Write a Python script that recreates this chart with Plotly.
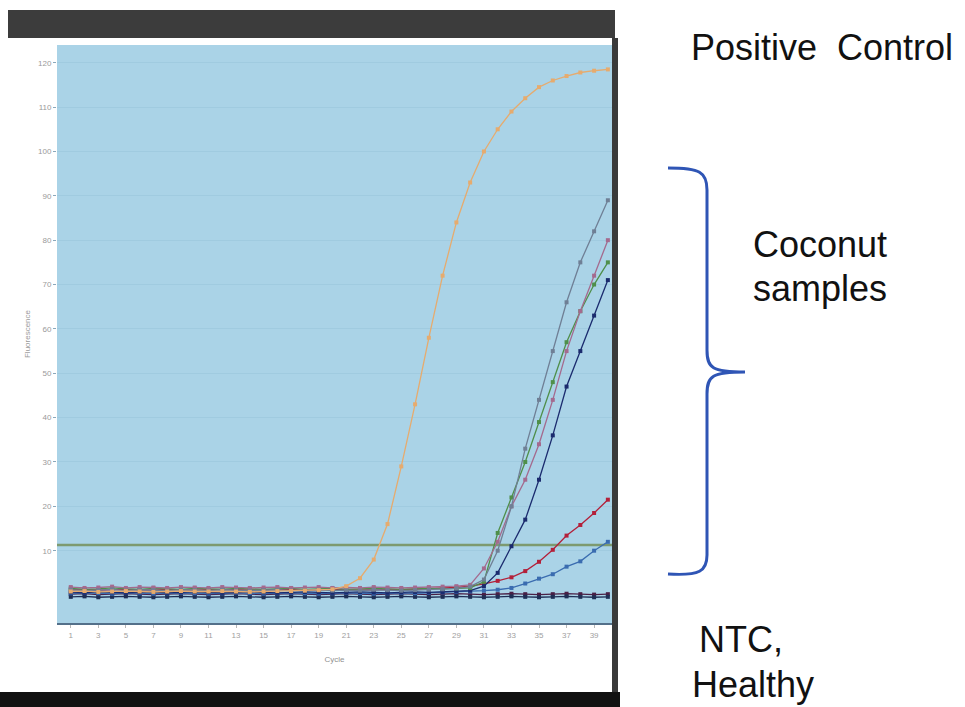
import plotly.graph_objects as go

# ---------------- data ----------------
cycles = list(range(1, 41))

positive_control = [0.8, 0.9, 0.7, 0.8, 0.9, 0.8, 0.7, 0.8, 0.9, 0.8,
                    0.8, 0.9, 0.8, 0.7, 0.8, 0.9, 0.9, 1.0, 1.1, 1.3,
                    2.0, 3.8, 8.0, 16.0, 29.0, 43.0, 58.0, 72.0, 84.0, 93.0,
                    100.0, 105.0, 109.0, 112.0, 114.5, 116.0, 117.0, 117.8, 118.2, 118.5]

sample_a = [1.2, 1.0, 1.1, 1.3, 1.0, 1.2, 1.1, 1.0, 1.2, 1.1,
            1.0, 1.2, 1.1, 1.0, 1.1, 1.2, 1.0, 1.1, 1.2, 1.0,
            1.1, 1.0, 1.2, 1.1, 1.0, 1.1, 1.2, 1.3, 1.5, 1.9,
            3.5, 10.0, 20.0, 33.0, 44.0, 55.0, 66.0, 75.0, 82.0, 89.0]

sample_b = [1.5, 1.3, 1.4, 1.6, 1.4, 1.3, 1.5, 1.4, 1.3, 1.5,
            1.4, 1.3, 1.5, 1.4, 1.3, 1.4, 1.5, 1.3, 1.4, 1.5,
            1.3, 1.4, 1.5, 1.4, 1.3, 1.4, 1.5, 1.4, 1.5, 1.6,
            3.0, 14.0, 22.0, 30.0, 39.0, 48.0, 57.0, 64.0, 70.0, 75.0]

sample_c = [0.6, 0.5, 0.7, 0.6, 0.5, 0.6, 0.7, 0.5, 0.6, 0.7,
            0.6, 0.5, 0.6, 0.7, 0.6, 0.5, 0.6, 0.7, 0.6, 0.5,
            0.6, 0.7, 0.6, 0.5, 0.6, 0.7, 0.6, 0.7, 0.8, 1.0,
            2.0, 5.0, 11.0, 17.0, 26.0, 36.0, 47.0, 55.0, 63.0, 71.0]

sample_d = [1.8, 1.6, 1.7, 1.9, 1.6, 1.8, 1.7, 1.6, 1.8, 1.7,
            1.6, 1.8, 1.7, 1.6, 1.7, 1.8, 1.6, 1.7, 1.8, 1.6,
            1.7, 1.6, 1.8, 1.7, 1.6, 1.7, 1.8, 1.9, 2.0, 2.3,
            6.0, 12.0, 20.0, 26.0, 34.0, 44.0, 55.0, 64.0, 72.0, 80.0]

sample_e = [1.2, 1.3, 1.1, 1.2, 1.3, 1.2, 1.1, 1.3, 1.2, 1.1,
            1.2, 1.3, 1.2, 1.1, 1.2, 1.3, 1.2, 1.1, 1.2, 1.3,
            1.2, 1.1, 1.2, 1.3, 1.2, 1.3, 1.4, 1.5, 1.7, 2.0,
            2.5, 3.2, 4.0, 5.4, 7.5, 10.2, 13.4, 15.8, 18.5, 21.5]

sample_f = [0.4, 0.5, 0.4, 0.3, 0.5, 0.4, 0.3, 0.4, 0.5, 0.4,
            0.3, 0.4, 0.5, 0.4, 0.3, 0.4, 0.5, 0.4, 0.3, 0.4,
            0.5, 0.4, 0.3, 0.4, 0.5, 0.4, 0.5, 0.6, 0.7, 0.8,
            1.0, 1.2, 1.6, 2.6, 3.7, 4.7, 6.4, 7.6, 10.0, 12.0]

ntc = [0.2, 0.3, 0.1, 0.2, 0.3, 0.2, 0.1, 0.2, 0.3, 0.2,
       0.1, 0.2, 0.3, 0.2, 0.1, 0.2, 0.3, 0.2, 0.1, 0.2,
       0.3, 0.2, 0.1, 0.2, 0.3, 0.2, 0.1, 0.2, 0.3, 0.2,
       0.1, 0.2, 0.3, 0.2, 0.1, 0.2, 0.3, 0.2, 0.1, 0.2]

healthy = [-0.4, -0.3, -0.5, -0.4, -0.3, -0.4, -0.5, -0.4, -0.3, -0.4,
           -0.5, -0.4, -0.3, -0.4, -0.5, -0.4, -0.3, -0.4, -0.5, -0.4,
           -0.3, -0.4, -0.5, -0.4, -0.3, -0.4, -0.5, -0.4, -0.3, -0.4,
           -0.5, -0.4, -0.3, -0.4, -0.5, -0.4, -0.3, -0.4, -0.5, -0.4]

threshold = 11.3

x_ticks = [1, 3, 5, 7, 9, 11, 13, 15, 17, 19, 21, 23, 25, 27, 29, 31, 33, 35, 37, 39]
y_ticks = [10, 20, 30, 40, 50, 60, 70, 80, 90, 100, 110, 120]
y_tick_labels = ["10", "20", "30", "40", "50", "60", "70", "80", "90", "100", "110", "120"]

series = [
    ("NTC", ntc, "#4a1f45"),
    ("Healthy", healthy, "#1f2f55"),
    ("Sample F", sample_f, "#3a6cb0"),
    ("Sample E", sample_e, "#b3203a"),
    ("Sample C", sample_c, "#1b2b6e"),
    ("Sample B", sample_b, "#4f8f4a"),
    ("Sample D", sample_d, "#a46a8e"),
    ("Sample A", sample_a, "#6f7f95"),
    ("Positive Control", positive_control, "#e6ab6e"),
]

# ---------------- figure ----------------
W, H = 965, 707
L, R, T, B = 57, 612, 45, 623


def px(xp):
    return (xp - L) / (R - L)


def py(yp):
    return (B - yp) / (B - T)


fig = go.Figure()

fig.add_trace(go.Scatter(
    x=[cycles[0] - 1, cycles[-1] + 0.3], y=[threshold, threshold],
    mode="lines", line=dict(color="#7d9a70", width=2.5),
    hoverinfo="skip", showlegend=False))

for name, vals, col in series:
    fig.add_trace(go.Scatter(
        x=cycles, y=vals, mode="lines+markers", name=name,
        line=dict(color=col, width=1.3),
        marker=dict(symbol="square", size=4, color=col),
        showlegend=False))

shapes = []
# dark header bar
shapes.append(dict(type="rect", xref="paper", yref="paper",
                   x0=px(8), x1=px(615), y0=py(38), y1=py(10),
                   fillcolor="#3c3c3c", line=dict(width=0), layer="above"))
# right dark border
shapes.append(dict(type="rect", xref="paper", yref="paper",
                   x0=px(612), x1=px(618), y0=py(700), y1=py(38),
                   fillcolor="#3a3a3a", line=dict(width=0), layer="above"))
# bottom black bar
shapes.append(dict(type="rect", xref="paper", yref="paper",
                   x0=px(0), x1=px(620), y0=py(707), y1=py(692),
                   fillcolor="#111111", line=dict(width=0), layer="above"))
# blue brace
brace = ("M {a},{b} C {c},{d} {e},{f} {e},{g} L {e},{h} "
         "C {e},{i} {j},{k} {l},{k} "
         "C {j},{k} {e},{m} {e},{n} L {e},{o} "
         "C {e},{p} {c},{q} {a},{r}").format(
    a=px(668), b=py(168), c=px(700), d=py(168), e=px(707), f=py(172), g=py(190),
    h=py(350), i=py(368), j=px(712), k=py(372), l=px(745), m=py(376), n=py(394),
    o=py(555), p=py(571), q=py(576), r=py(574))
shapes.append(dict(type="path", xref="paper", yref="paper", path=brace,
                   line=dict(color="#2f55b5", width=3)))

fig.update_layout(shapes=shapes)

txt_font = dict(family="Liberation Sans, Arial, sans-serif", size=36, color="#111111")
ann = [
    dict(text="Positive  Control", x=px(689), y=py(48), xanchor="left", yanchor="middle"),
    dict(text="Coconut", x=px(820), y=py(245), xanchor="center", yanchor="middle"),
    dict(text="samples", x=px(820), y=py(288), xanchor="center", yanchor="middle"),
    dict(text="NTC,", x=px(697), y=py(640), xanchor="left", yanchor="middle"),
    dict(text="Healthy", x=px(690), y=py(684), xanchor="left", yanchor="middle"),
]
for a in ann:
    a.update(xref="paper", yref="paper", showarrow=False, font=txt_font)
fig.update_layout(annotations=ann)

fig.update_layout(
    width=W, height=H,
    margin=dict(l=L, r=W - R, t=T, b=H - B, pad=0),
    paper_bgcolor="white",
    plot_bgcolor="#aad3e7",
    font=dict(family="Liberation Sans, Arial, sans-serif"),
    xaxis=dict(range=[0, 40.3], tickmode="array", tickvals=x_ticks,
               ticks="outside", ticklen=3, tickcolor="#b8b8b8",
               tickfont=dict(size=8, color="#a0a0a0"),
               showgrid=False, zeroline=False,
               showline=True, linecolor="#54708a", linewidth=2,
               title=dict(text="Cycle", font=dict(size=8, color="#909090"), standoff=18)),
    yaxis=dict(range=[-6.3, 124], tickmode="array", tickvals=y_ticks,
               ticktext=y_tick_labels,
               ticks="outside", ticklen=3, tickcolor="#8aa8bb",
               tickfont=dict(size=8, color="#9a9a9a"),
               showgrid=True, gridcolor="#a0cbe0", gridwidth=1,
               zeroline=False, showline=False,
               title=dict(text="Fluorescence", font=dict(size=8, color="#9a9a9a"), standoff=6)),
)

fig.write_html("out.html", config={"displayModeBar": False},
               post_script="document.body.style.margin='0';")
